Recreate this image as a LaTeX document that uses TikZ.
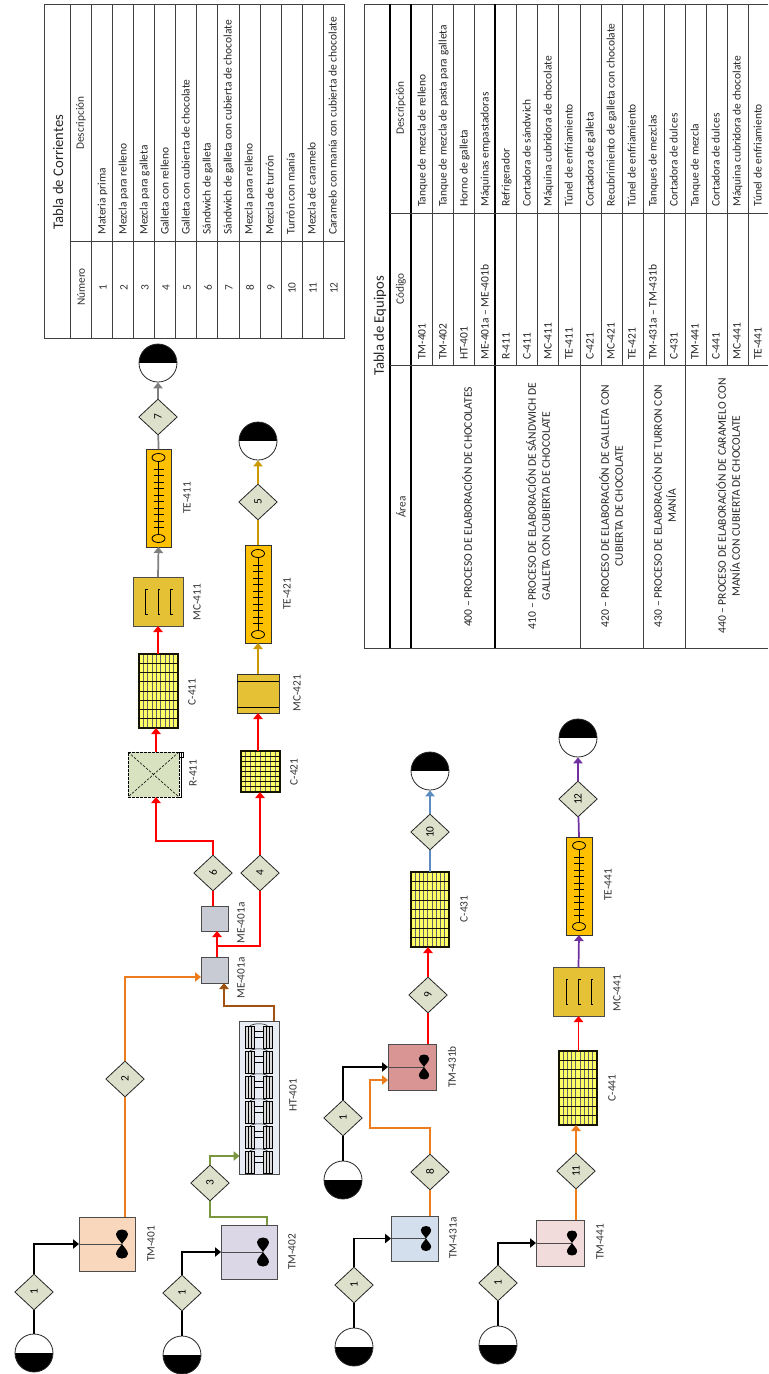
\documentclass[tikz,border=0pt]{standalone}
\usepackage{fontspec}
\setmainfont{Carlito}
\usetikzlibrary{arrows.meta,positioning,calc,fit,shapes.geometric}
\definecolor{diafill}{RGB}{221,225,204}
\definecolor{orangeflow}{RGB}{237,125,28}
\definecolor{greenflow}{RGB}{122,150,62}
\definecolor{brownflow}{RGB}{160,82,16}
\definecolor{ochreflow}{RGB}{204,153,0}
\definecolor{blueflow}{RGB}{91,139,191}
\definecolor{purpleflow}{RGB}{112,48,160}
\definecolor{mcfill}{RGB}{229,194,53}
\definecolor{tefill}{RGB}{255,192,0}
\definecolor{gridfill}{RGB}{255,255,102}
\definecolor{gridline}{RGB}{20,20,0}
\tikzset{
  box/.style={rectangle,draw=black!70,line width=.7pt,inner sep=0pt,outer sep=0pt},
  dia/.style={diamond,draw=black!85,fill=diafill,line width=.6pt,rotate=90,inner sep=0pt,
    minimum width=27pt,minimum height=29pt,font=\fontsize{8.5}{9}\selectfont},
  srctank/.style={circle,draw=black!85,line width=.6pt,minimum size=28.5pt,inner sep=0pt,
    path picture={\fill[black] (path picture bounding box.west) rectangle (path picture bounding box.south east);}},
  snktank/.style={circle,draw=black!85,line width=.6pt,minimum size=28.5pt,inner sep=0pt,
    path picture={\fill[black] (path picture bounding box.west) rectangle (path picture bounding box.north east);}},
  cutgrid/.style 2 args={box,fill=gridfill,draw=gridline,line width=.8pt,
    path picture={
      \foreach \i in {1,...,#1}
        \draw[black!60,line width=.7pt] ($(path picture bounding box.south west)!\i/#1!(path picture bounding box.south east)$) -- ($(path picture bounding box.north west)!\i/#1!(path picture bounding box.north east)$);
      \foreach \j in {1,...,#2}
        \draw[gridline,line width=.6pt] ($(path picture bounding box.south west)!\j/#2!(path picture bounding box.north west)$) -- ($(path picture bounding box.south east)!\j/#2!(path picture bounding box.north east)$);
    }},
  flow/.style={line width=1.3pt,line join=miter},
  tip/.style={-{Triangle[length=4.5pt,width=7pt]}},
  lbl/.style={rotate=90,inner sep=0pt,text=black!80,font=\fontsize{8.5}{9}\selectfont},
  rowtxt/.style={rotate=90,anchor=west,inner sep=0pt,text height=6pt,text depth=2pt,text=black!85,font=\fontsize{8.6}{9}\selectfont},
  midtxt/.style={rotate=90,inner sep=0pt,align=center,text=black!85,font=\fontsize{8.7}{10.5}\selectfont},
  headtxt/.style={rotate=90,inner sep=0pt,text=black!85,font=\fontsize{11}{12}\selectfont},
  rule/.style={black!75,line width=.75pt},
  bowtie/.pic={
    \fill[black] (0,0) .. controls (-1.5,-3) and (-6,-6) .. (-6,-10) .. controls (-6,-13) and (-3,-14.5) .. (0,-14.5)
      .. controls (3,-14.5) and (6,-13) .. (6,-10) .. controls (6,-6) and (1.5,-3) .. (0,0)
      .. controls (-1.5,3) and (-6,6) .. (-6,10) .. controls (-6,13) and (-3,14.5) .. (0,14.5)
      .. controls (3,14.5) and (6,13) .. (6,10) .. controls (6,6) and (1.5,3) .. (0,0) -- cycle;
  },
  tunnel/.pic={
    \draw[line width=.6pt] (0,-36.5) -- (0,36.5);
    \draw[line width=.6pt] (0,-40.5) ellipse (6.5 and 4);
    \draw[line width=.6pt] (0,40.5) ellipse (6.5 and 4);
    \foreach \t in {-29,-22.5,...,30}
      \draw[line width=.6pt] (-5,\t) -- (5,\t);
  },
  coater/.pic={
    \foreach \b in {-12.5,0,12.5}
      \draw[line width=.6pt] (\b+2,-12.5) -- (\b,-12.5) -- (\b,12.5) -- (\b+2,12.5);
  },
  roller/.pic={
    \draw[fill=black!15,line width=.45pt] (-13.5,-11) rectangle (-4.5,11);
    \draw[fill=black!15,line width=.45pt] (4,-11) rectangle (13,11);
    \draw[line width=.35pt] (-10.5,-11) -- (-10.5,11) (-7.5,-11) -- (-7.5,11) (7,-11) -- (7,11) (10,-11) -- (10,11);
    \draw[line width=.35pt] (-4.5,-6) -- (4,-6) (-4.5,0) -- (4,0);
    \draw[line width=.35pt] (-9,-11) .. controls (-6,-14) and (6,-14) .. (8.5,-11);
  }
}
\begin{document}
\begin{tikzpicture}[x=0.75pt,y=-0.75pt]
  \useasboundingbox (0,0) rectangle (768,1374);

  % stream table
  \draw[rule] (44,4) rectangle (344,338);
  \foreach \xl in {70,91,112,133,154,175,196,217,239,260,281,302,323}
    \draw[rule] (\xl,4) -- (\xl,338);
  \draw[rule] (70,241) -- (344,241);
  \node[headtxt] (cortitle) at (58,172) {Tabla de Corrientes};
  \node[lbl] (cornum) at (81,287) {Número};
  \node[lbl] (cordesc) at (81,123) {Descripción};
  \foreach \xr/\num/\txt in {103/1/Materia prima,124/2/Mezcla para relleno,145/3/Mezcla para galleta,
      166/4/Galleta con relleno,187/5/Galleta con cubierta de chocolate,208/6/Sándwich de galleta,
      229/7/Sándwich de galleta con cubierta de chocolate,250/8/Mezcla para relleno,271/9/Mezcla de turrón,
      292/10/Turrón con manía,313/11/Mezcla de caramelo,334/12/Caramelo con manía con cubierta de chocolate}{
    \node[lbl] (crn\num) at (\xr,288) {\num};
    \node[rowtxt] (crt\num) at (\xr,235) {\txt};
  }

  % equipment table
  \draw[rule] (768,4) -- (364,4) -- (364,648) -- (768,648);
  \foreach \xl in {432,453,474,516,537,558,601,622,664,706,727,748}
    \draw[rule] (\xl,4) -- (\xl,365);
  \foreach \xl in {580,643,685}
    \draw[rule] (\xl,4) -- (\xl,648);
  \foreach \xl in {390,411,495}
    \draw[black,line width=1pt] (\xl,4) -- (\xl,648);
  \draw[rule] (390,213) -- (768,213);
  \draw[rule] (390,365) -- (768,365);
  \node[headtxt] (eqtitle) at (380,326) {Tabla de Equipos};
  \node[lbl] (eqdesc) at (401,108) {Descripción};
  \node[lbl] (eqcod) at (401,289) {Código};
  \node[lbl] (eqarea) at (401,507) {Área};
  \foreach \xr/\idx/\cod/\txt in {423/a/TM-401/Tanque de mezcla de relleno,444/b/TM-402/Tanque de mezcla de pasta para galleta,
      465/c/HT-401/Horno de galleta,486/d/ME-401a – ME-401b/Máquinas empastadoras,507/e/R-411/Refrigerador,
      528/f/C-411/Cortadora de sándwich,549/g/MC-411/Máquina cubridora de chocolate,570/h/TE-411/Túnel de enfriamiento,
      591/i/C-421/Cortadora de galleta,612/j/MC-421/Recubrimiento de galleta con chocolate,633/k/TE-421/Túnel de enfriamiento,
      654/l/TM-431a – TM-431b/Tanques de mezclas,675/m/C-431/Cortadora de dulces,696/n/TM-441/Tanque de mezcla,
      717/o/C-441/Cortadora de dulces,738/p/MC-441/Máquina cubridora de chocolate,759/q/TE-441/Túnel de enfriamiento}{
    \node[rowtxt] (eqc\idx) at (\xr,360) {\cod};
    \node[rowtxt] (eqt\idx) at (\xr,207) {\txt};
  }
  \node[midtxt] (area400) at (467,507) {400 – PROCESO DE ELABORACIÓN DE CHOCOLATES};
  \node[midtxt] (area410) at (538,506) {410 – PROCESO DE ELABORACIÓN DE SÁNDWICH DE\\GALLETA CON CUBIERTA DE CHOCOLATE};
  \node[midtxt] (area420) at (611,506) {420 – PROCESO DE ELABORACIÓN DE GALLETA CON\\CUBIERTA DE CHOCOLATE};
  \node[midtxt] (area430) at (664,506) {430 – PROCESO DE ELABORACIÓN DE TURRON CON\\MANÍA};
  \node[midtxt] (area440) at (728,506) {440 – PROCESO DE ELABORACIÓN DE CARAMELO CON\\MANÍA CON CUBIERTA DE CHOCOLATE};

  % tanks
  \node[box,fill={rgb,255:red,249;green,215;blue,188},fit={(79,1217) (135,1271)}] (tm401) {};
  \node[box,fill={rgb,255:red,220;green,215;blue,230},fit={(221,1225) (277,1279)}] (tm402) {};
  \node[box,fill={rgb,255:red,217;green,149;blue,148},fit={(388,1044) (436,1090)}] (tm431b) {};
  \node[box,fill={rgb,255:red,211;green,223;blue,236},fit={(391,1216) (438,1261)}] (tm431a) {};
  \node[box,fill={rgb,255:red,242;green,220;blue,219},fit={(536,1220) (584,1266)}] (tm441) {};
  \foreach \tk/\bx/\sc in {tm401/122/1,tm402/263/1,tm431b/424/.86,tm431a/426/.86,tm441/572/.86}{
    \draw[black!70,line width=.6pt] (\tk.west) -- (\bx,0 |- \tk);
    \pic[scale=\sc] at (\bx,0 |- \tk) {bowtie};
  }

  % oven
  \node[box,fill={rgb,255:red,232;green,237;blue,245},fit={(239.5,1021) (279,1174)}] (ht401) {};
  \foreach \ry in {1037,1062,1087,1112,1137,1162}
    \pic at (259,\ry) {roller};

  % mixers
  \node[box,fill={rgb,255:red,200;green,203;blue,211},fit={(201,957) (228,983)}] (mea) {};
  \node[box,fill={rgb,255:red,200;green,203;blue,211},fit={(201,906) (228,931)}] (meb) {};

  % fridge
  \node[box,draw=black,dash pattern=on 2pt off 1pt,fill={rgb,255:red,216;green,226;blue,192},fit={(128,752) (179,797)}] (r411) {};
  \draw[dash pattern=on 2pt off 1pt,line width=.4pt] (r411.north west) -- (r411.south east) (r411.north east) -- (r411.south west);
  \draw[line width=.7pt] (r411.north east) ++(2,0) -- ++(0,45) -- (r411.south east);
  \draw[line width=.5pt] (r411.north east) rectangle ++(4,5);

  % cutters
  \node[cutgrid={9}{8},fit={(139,654) (178,728)}] (c411) {};
  \node[cutgrid={8}{8},fit={(241,751) (280,792)}] (c421) {};
  \node[cutgrid={9}{8},fit={(411,872) (449,947)}] (c431) {};
  \node[cutgrid={9}{8},fit={(559,1051) (597,1125)}] (c441) {};

  % coating machines
  \node[box,fill=mcfill,fit={(133,577) (183,626)}] (mc411) {};
  \pic at (mc411) {coater};
  \node[box,draw=black!80,fill=mcfill,fit={(237,674) (279,713)}] (mc421) {};
  \draw[line width=.6pt] ([yshift=-5.25pt]mc421.north west) -- ([yshift=-5.25pt]mc421.north east);
  \draw[line width=.6pt] ([yshift=4.5pt]mc421.south west) -- ([yshift=4.5pt]mc421.south east);
  \node[box,fill=mcfill,fit={(553,967) (604,1016)}] (mc441) {};
  \pic at (mc441) {coater};

  % cooling tunnels
  \node[box,draw=black!80,fill=tefill,fit={(146,449) (171,547)}] (te411) {};
  \node[box,draw=black!80,fill=tefill,fit={(245,545) (271,643)}] (te421) {};
  \node[box,draw=black!80,fill=tefill,fit={(566,837) (592,935)}] (te441) {};
  \foreach \te in {te411,te421,te441}
    \pic at (\te) {tunnel};

  % feeds and products
  \node[srctank] (s1) at (34,1353) {};
  \node[srctank] (s2) at (182,1355) {};
  \node[srctank] (s3) at (343,1180) {};
  \node[srctank] (s4) at (354,1347) {};
  \node[srctank] (s5) at (498,1345) {};
  \node[snktank] (k7) at (158,363) {};
  \node[snktank] (k5) at (258,441) {};
  \node[snktank] (k10) at (430,771) {};
  \node[snktank] (k12) at (578,738) {};

  % stream tags
  \node[dia] (d1a) at (34,1292) {1};
  \node[dia] (d1b) at (182,1293) {1};
  \node[dia] (d1c) at (343,1118) {1};
  \node[dia] (d1d) at (354,1285) {1};
  \node[dia] (d1e) at (498,1283) {1};
  \node[dia] (d2) at (125,1079) {2};
  \node[dia] (d3) at (210,1183) {3};
  \node[dia] (d4) at (260,873) {4};
  \node[dia] (d5) at (258,502) {5};
  \node[dia] (d6) at (213,873) {6};
  \node[dia] (d7) at (158,417) {7};
  \node[dia] (d8) at (430,1172) {8};
  \node[dia] (d9) at (428,995) {9};
  \node[dia] (d10) at (430,832) {10};
  \node[dia] (d11) at (576,1171) {11};
  \node[dia] (d12) at (578,799) {12};

  % joints
  \coordinate (meain) at (201,977);
  \coordinate (htin) at (239.5,1156);
  \coordinate (htout) at (274,1021);
  \coordinate (tm2out) at (267,1225);
  \coordinate (j3) at (210,1217);
  \coordinate (jh) at (224,1006);
  \coordinate (mebot) at (224,983);
  \coordinate (j1) at (217,946);
  \coordinate (j6) at (156,841);
  \coordinate (j8) at (370,1128);
  \coordinate (e8) at (388,1080);

  % black feed lines
  \foreach \sr/\dg/\tk in {s1/d1a/tm401,s2/d1b/tm402,s3/d1c/tm431b,s4/d1d/tm431a,s5/d1e/tm441}{
    \draw[flow,black] (\sr) -- (\dg);
    \draw[flow,black,tip] (\dg) |- (\tk.west);
  }

  % orange lines
  \draw[flow,orangeflow] (tm401.north -| d2) -- (d2);
  \draw[flow,orangeflow,tip] (d2) |- (meain);
  \draw[flow,orangeflow] (tm431a.north -| d8) -- (d8);
  \draw[flow,orangeflow,tip] (d8) |- (j8) |- (e8);
  \draw[flow,orangeflow] (tm441.north -| d11) -- (d11);
  \draw[flow,orangeflow,tip] (d11) -- (c441.south -| d11);

  % green and brown lines
  \draw[flow,greenflow] (tm2out) |- (j3) -- (d3);
  \draw[flow,greenflow,tip] (d3) |- (htin);
  \draw[flow,brownflow,tip] (htout) |- (jh) -- (mebot);

  % red lines
  \draw[flow,red,tip] (mea.north -| j1) -- (meb.south -| j1);
  \draw[flow,red] (j1) -| (d4);
  \draw[flow,red,tip] (d4) -- (c421.south -| d4);
  \draw[flow,red] (meb.north -| d6) -- (d6);
  \draw[flow,red,tip] (d6) |- (j6) -- (r411.south -| j6);
  \draw[flow,red,tip] (r411.north -| j6) -- (c411.south -| j6);
  \draw[flow,red,tip] (c411.north -| mc411) -- (mc411.south);
  \draw[flow,red,tip] (c421.north -| mc421) -- (mc421.south);
  \draw[flow,red] (tm431b.north -| d9) -- (d9);
  \draw[flow,red,tip] (d9) -- (c431.south -| d9);
  \draw[flow,red,tip] (c441.north -| mc441) -- (mc441.south);

  % product lines
  \draw[flow,black!50,tip] (mc411.north) -- (te411.south);
  \draw[flow,black!50] (te411.north) -- (d7);
  \draw[flow,black!50,tip] (d7) -- (k7);
  \draw[flow,ochreflow,tip] (mc421.north) -- (te421.south);
  \draw[flow,ochreflow] (te421.north) -- (d5);
  \draw[flow,ochreflow,tip] (d5) -- (k5);
  \draw[flow,blueflow] (c431.north -| d10) -- (d10);
  \draw[flow,blueflow,tip] (d10) -- (k10);
  \draw[flow,purpleflow,tip] (mc441.north) -- (te441.south);
  \draw[flow,purpleflow] (te441.north) -- (d12);
  \draw[flow,purpleflow,tip] (d12) -- (k12);

  % equipment labels
  \foreach \lx/\ly/\ltxt/\lname in {151/1244/TM-401/ltma,292/1252/TM-402/ltmb,293/1095/HT-401/lht,
      241/978/ME-401a/lmea,241/923/ME-401a/lmeb,193/773/R-411/lr,192/692/C-411/lca,197/602/MC-411/lmca,187/498/TE-411/ltea,
      294/772/C-421/lcb,297/693/MC-421/lmcb,287/594/TE-421/lteb,453/1238/TM-431a/ltmc,452/1067/TM-431b/ltmd,464/909/C-431/lcc,
      600/1242/TM-441/ltme,612/1088/C-441/lcd,617/993/MC-441/lmcc,608/885/TE-441/ltec}
    \node[lbl] (\lname) at (\lx,\ly) {\ltxt};
\end{tikzpicture}
\end{document}
